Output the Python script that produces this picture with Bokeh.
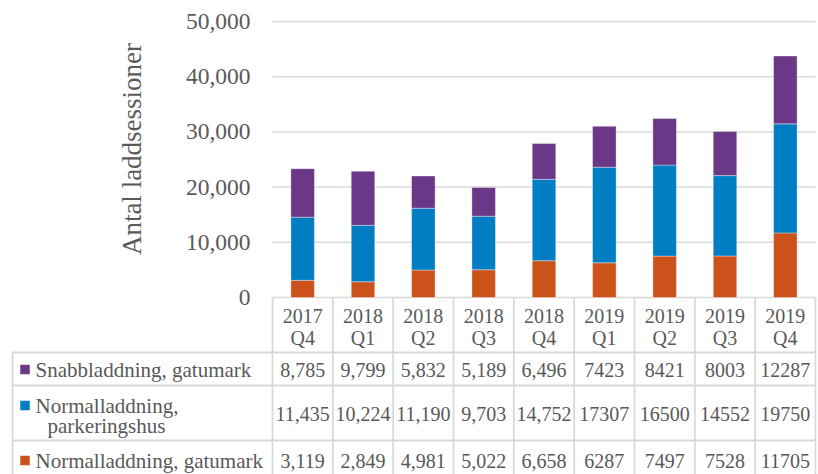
import math
from bokeh.plotting import figure
from bokeh.models import Range1d, FixedTicker, NumeralTickFormatter, LinearAxis, ColumnDataSource
from bokeh.embed import file_html
from bokeh.resources import INLINE
from bokeh.core.properties import value

# ---------------- data ----------------
years = ["2017", "2018", "2018", "2018", "2018", "2019", "2019", "2019", "2019"]
quarters = ["Q4", "Q1", "Q2", "Q3", "Q4", "Q1", "Q2", "Q3", "Q4"]
snabb_gatumark = [8785, 9799, 5832, 5189, 6496, 7423, 8421, 8003, 12287]
normal_parkering = [11435, 10224, 11190, 9703, 14752, 17307, 16500, 14552, 19750]
normal_gatumark = [3119, 2849, 4981, 5022, 6658, 6287, 7497, 7528, 11705]
thousands_sep = [True, True, True, True, True, False, False, False, False]
y_ticks = [0, 10000, 20000, 30000, 40000, 50000]
series_names = ["Snabbladdning, gatumark", "Normalladdning, parkeringshus", "Normalladdning, gatumark"]
y_label = "Antal laddsessioner"

# ---------------- style / layout (pixels) ----------------
PURPLE = "#6A3887"
BLUE = "#007DC3"
ORANGE = "#CC521B"
TEXT = "#595959"
GRID = "#D9D9D9"
FONT = value("Liberation Serif")

FW, FH = 818, 474
FRAME_L, FRAME_R = 272, 815      # plot area left / right
Y_TOP_PX, Y_ZERO_PX = 21, 297    # pixel rows of top tick and of zero
ROW_PX = [352, 385, 440]         # bottoms of header row, row 1, row 2
LEG_L = 12                       # table left border
LABEL_CY = 145                   # centre row of the axis title span
N = len(years)
YMAX = y_ticks[-1]

UNIT = (FRAME_R - FRAME_L) / N
PPY = (Y_ZERO_PX - Y_TOP_PX) / YMAX


def xd(px):
    return -0.5 + (px - FRAME_L) / UNIT


def yd(py):
    return (Y_ZERO_PX - py) / PPY


p = figure(width=FW, height=FH, x_range=Range1d(xd(0), xd(FW)), y_range=Range1d(yd(FH), yd(0)),
           output_backend="svg", toolbar_location=None, x_axis_location=None, y_axis_location=None,
           min_border_left=0, min_border_right=0, min_border_top=0, min_border_bottom=0)
p.outline_line_color = None
p.grid.visible = False

ax = LinearAxis(fixed_location=-0.5, ticker=FixedTicker(ticks=y_ticks),
                formatter=NumeralTickFormatter(format="0,0"),
                bounds=(0, yd(2 * LABEL_CY - Y_ZERO_PX)))
ax.axis_line_color = None
ax.major_tick_line_color = None
ax.minor_tick_line_color = None
ax.major_label_text_font = "Liberation Serif"
ax.major_label_text_font_size = "23.5px"
ax.major_label_text_color = TEXT
ax.major_label_standoff = 16
ax.axis_label = y_label
ax.axis_label_text_font = "Liberation Serif"
ax.axis_label_text_font_size = "27px"
ax.axis_label_text_font_style = "normal"
ax.axis_label_text_color = TEXT
ax.axis_label_standoff = 36
p.add_layout(ax, "left")

# gridlines
p.segment(x0=[-0.5] * len(y_ticks), y0=y_ticks, x1=[N - 0.5] * len(y_ticks), y1=y_ticks,
          line_color=GRID, line_width=1.5)

xs = list(range(N))
src = ColumnDataSource(dict(x=xs, g=normal_gatumark, p=normal_parkering, s=snabb_gatumark))
p.vbar_stack(["g", "p", "s"], x="x", width=0.39, color=[ORANGE, BLUE, PURPLE], source=src,
             line_color="white", line_alpha=0.45, line_width=0.8)

# ---------------- data table ----------------
bx = [i - 0.5 for i in range(N + 1)]
p.segment(x0=bx, y0=[0] * len(bx), x1=bx, y1=[yd(FH + 2)] * len(bx), line_color=GRID, line_width=1.8)
p.segment(x0=[xd(LEG_L)], y0=[yd(ROW_PX[0])], x1=[xd(LEG_L)], y1=[yd(FH + 2)], line_color=GRID, line_width=1.8)
p.segment(x0=[xd(LEG_L)] * 3, y0=[yd(r) for r in ROW_PX], x1=[N - 0.5] * 3, y1=[yd(r) for r in ROW_PX],
          line_color=GRID, line_width=1.8)

txt = dict(text_align="center", text_baseline="middle", text_font=FONT, text_font_size="20px", text_color=TEXT)
p.text(x=xs, y=[yd(315)] * N, text=years, **txt)
p.text(x=xs, y=[yd(337)] * N, text=quarters, **txt)

rows = [snabb_gatumark, normal_parkering, normal_gatumark]
row_colors = [PURPLE, BLUE, ORANGE]
val_py = [369, 413, 460]
leg_py = [369, 405, 460]

p.rect(x=[xd(24.5)] * 3, y=[yd(v) for v in leg_py], width=9.5, height=9.5,
       width_units="screen", height_units="screen", color=row_colors, line_color=None)

for i, name in enumerate(series_names):
    labels = [f"{v:,}" if sep else str(v) for v, sep in zip(rows[i], thousands_sep)]
    p.text(x=xs, y=[yd(val_py[i])] * N, text=labels, **txt)

leg = dict(text_baseline="middle", text_font=FONT, text_font_size="21px", text_color=TEXT)
p.text(x=[xd(35)], y=[yd(leg_py[0])], text=[series_names[0]], text_align="left", **leg)
first, second = series_names[1].split(" ", 1)
p.text(x=[xd(35)], y=[yd(405)], text=[first], text_align="left", **leg)
p.text(x=[xd(47)], y=[yd(425)], text=[second], text_align="left", **leg)
p.text(x=[xd(35)], y=[yd(leg_py[2])], text=[series_names[2]], text_align="left", **leg)

open("out.html", "w").write(file_html(p, INLINE))
